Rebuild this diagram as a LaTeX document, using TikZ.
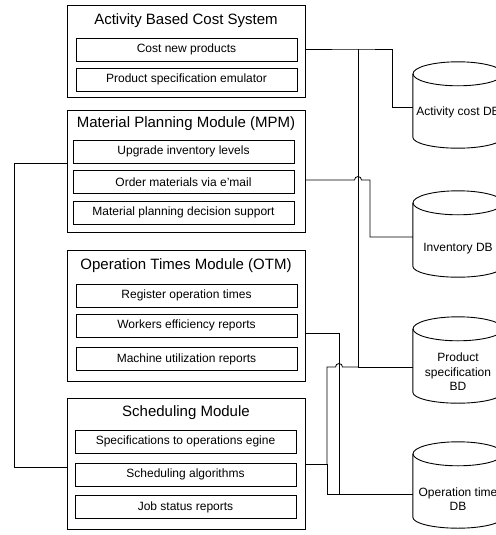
\documentclass[tikz,border=0pt]{standalone}
\usepackage{fontspec}
\setmainfont{Liberation Sans}
\usetikzlibrary{calc}

\begin{document}
\begin{tikzpicture}
[x=1pt,y=-1pt,
	module/.style={draw,line width=1pt,minimum width=238pt,inner sep=0pt},
	title/.style={font=\fontsize{15}{18}\selectfont},
	task/.style={draw,line width=0.9pt,minimum width=221pt,minimum height=23pt,inner sep=0pt,font=\fontsize{12}{14}\selectfont},
	db/.style={minimum width=90pt,minimum height=86pt,inner sep=0pt},
	dbline/.style={line width=0.9pt},
	dbtext/.style={align=center,inner sep=0pt,font=\fontsize{12}{14.5}\selectfont},
	wire/.style={line width=0.8pt}]
\useasboundingbox (0,0) rectangle (495,535);

% modules
\node[module,minimum height=91pt] (abc) at (186,51.5) {};
\node[title] (abcT) at (186,21) {Activity Based Cost System};
\node[task] (cost) at (186.5,49.5) {Cost new products};
\node[task] (emul) at (186.5,79.5) {Product specification emulator};

\node[module,minimum height=122pt] (mpm) at (186,171) {};
\node[title] (mpmT) at (186,124) {Material Planning Module (MPM)};
\node[task] (upg) at (183.5,151.5) {Upgrade inventory levels};
\node[task] (order) at (183.5,182) {Order materials via e'mail};
\node[task] (decis) at (183.5,212.5) {Material planning decision support};

\node[module,minimum height=131pt] (otm) at (186,315.5) {};
\node[title] (otmT) at (186,266) {Operation Times Module (OTM)};
\node[task] (reg) at (186.5,295.5) {Register operation times};
\node[task] (work) at (186.5,325.5) {Workers efficiency reports};
\node[task] (mach) at (186.5,359) {Machine utilization reports};

\node[module,minimum height=131pt] (sch) at (186,463.5) {};
\node[title] (schT) at (186,413) {Scheduling Module};
\node[task] (specop) at (185.5,441.5) {Specifications to operations egine};
\node[task] (alg) at (185.5,474.5) {Scheduling algorithms};
\node[task] (job) at (185.5,507) {Job status reports};

% databases
\node[db] (act) at (458,105) {};
\node[db] (inv) at (458,234) {};
\node[db] (prod) at (458,360) {};
\node[db] (opt) at (458,485) {};
\foreach \d in {act,inv,prod,opt}{
	\draw[dbline] ([yshift=-12pt]\d.north) ellipse[x radius=45pt,y radius=12pt];
	\draw[dbline] ([yshift=-12pt]\d.north west) -- ([yshift=11pt]\d.south west)
		arc[start angle=180,end angle=360,x radius=45pt,y radius=11pt] -- ([yshift=-12pt]\d.north east);
}
\node[dbtext] (actT) at (458,112) {Activity cost DB};
\node[dbtext] (invT) at (458,249) {Inventory DB};
\node[dbtext] (prodT) at (458,372) {Product\\specification\\BD};
\node[dbtext] (optT) at (458,499) {Operation time\\DB};

% bends of the wires
\coordinate (trunk) at (358,0);
\coordinate (bAct) at (392,0);
\coordinate (bInv) at (370,0);
\coordinate (bOpt) at (339,0);
\coordinate (bSch) at (327,0);
\coordinate (lft) at (14,0);

\draw[wire] (abc.east |- 0,49) -- (trunk |- 0,49) -- (bAct |- 0,49) |- (act.west |- 0,107);
\draw[wire] (trunk |- 0,49) |- (prod.west |- 0,367);
\draw[wire] (mpm.east |- 0,180) -- ($(trunk |- 0,180)+(-3.5,0)$)
	arc[start angle=180,end angle=0,radius=3.5pt] -- (bInv |- 0,180) |- (inv.west |- 0,237);
\draw[wire] (otm.east |- 0,333) -- (bOpt |- 0,333) |- (opt.west |- 0,494);
\draw[wire] (sch.east |- 0,464) -- (bSch |- 0,464) |- (opt.west |- 0,494);
\draw[wire] (bSch |- 0,464) |- ($(bOpt |- 0,367)+(-3.5,0)$)
	arc[start angle=180,end angle=0,radius=3.5pt] -- (trunk |- 0,367);
\draw[wire] (mpm.west |- 0,163) -- (lft |- 0,163) |- (sch.west |- 0,467);
\end{tikzpicture}
\end{document}
